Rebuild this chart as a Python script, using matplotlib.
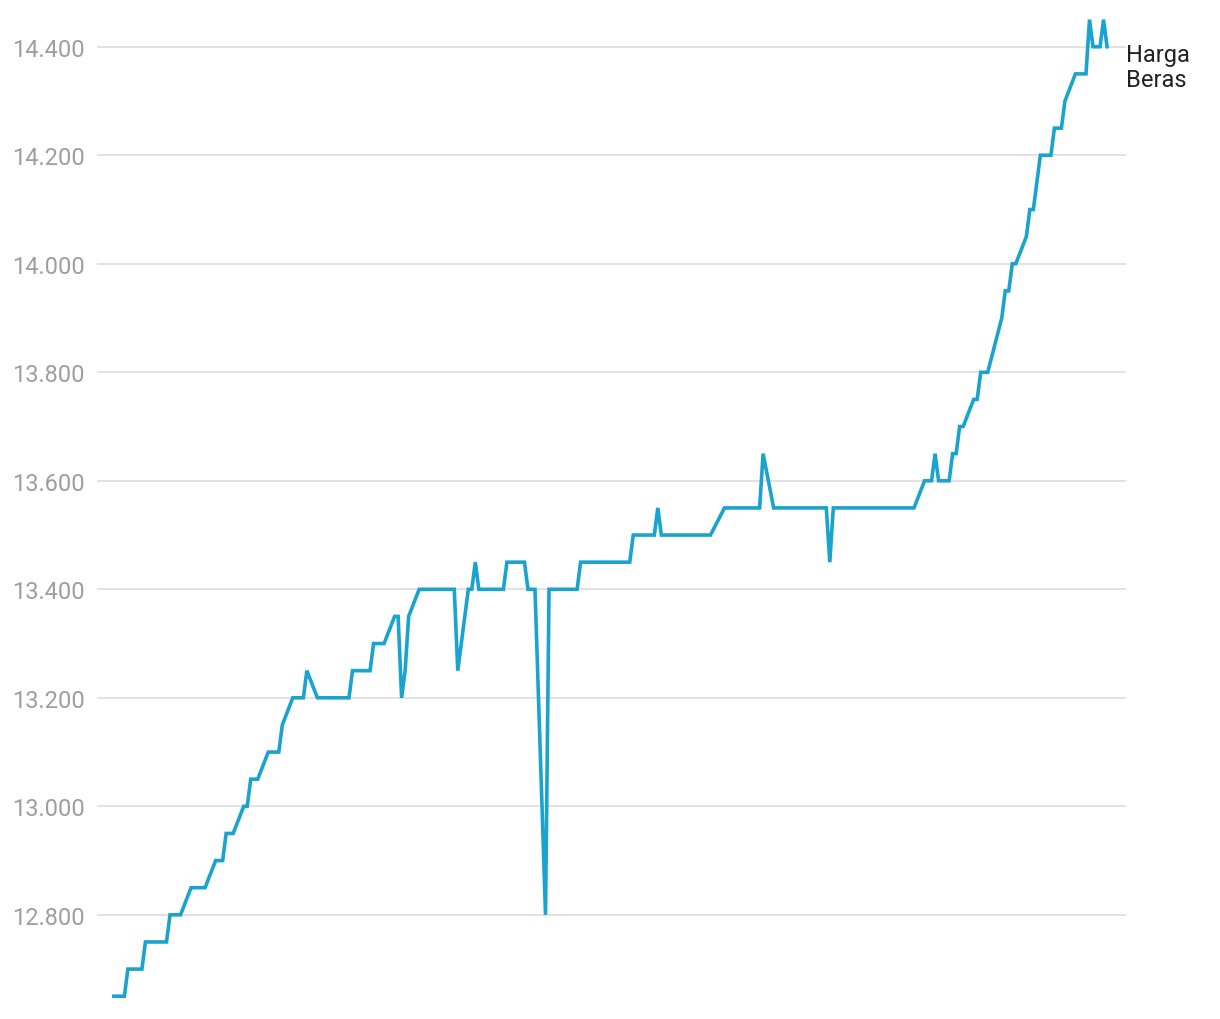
import matplotlib.pyplot as plt
from matplotlib.ticker import FuncFormatter

plt.rcParams['font.family'] = ['Roboto', 'DejaVu Sans']

# hari ke- (perkiraan dari gambar) dan harga beras (Rp/kg)
hari = [0, 3, 4, 8, 9, 15, 16, 19, 22, 26, 29, 31, 32, 34, 37, 38, 39, 41, 44, 47,
        48, 51, 54, 55, 58, 67, 68, 73, 74, 77, 80, 81, 82, 83, 84, 87, 97, 98, 101, 102,
        103, 104, 111, 112, 117, 118, 120, 123, 124, 132, 133, 147, 148, 154, 155, 156, 170, 174, 184, 185,
        188, 203, 204, 205, 228, 231, 233, 234, 235, 238, 239, 240, 241, 242, 245, 246, 247, 249, 253, 254,
        255, 256, 257, 260, 261, 262, 264, 267, 268, 270, 271, 274, 277, 278, 279, 281, 282, 283]
harga = [12650, 12650, 12700, 12700, 12750, 12750, 12800, 12800, 12850, 12850, 12900, 12900, 12950, 12950, 13000, 13000, 13050, 13050, 13100, 13100,
         13150, 13200, 13200, 13250, 13200, 13200, 13250, 13250, 13300, 13300, 13350, 13350, 13200, 13250, 13350, 13400, 13400, 13250, 13400, 13400,
         13450, 13400, 13400, 13450, 13450, 13400, 13400, 12800, 13400, 13400, 13450, 13450, 13500, 13500, 13550, 13500, 13500, 13550, 13550, 13650,
         13550, 13550, 13450, 13550, 13550, 13600, 13600, 13650, 13600, 13600, 13650, 13650, 13700, 13700, 13750, 13750, 13800, 13800, 13900, 13950,
         13950, 14000, 14000, 14050, 14100, 14100, 14200, 14200, 14250, 14250, 14300, 14350, 14350, 14450, 14400, 14400, 14450, 14400]
y_ticks = [12800, 13000, 13200, 13400, 13600, 13800, 14000, 14200, 14400]
label = "Harga\nBeras"

W, H = 1220, 1020
fig = plt.figure(figsize=(W / 100, H / 100), dpi=100)
ax = fig.add_axes([97 / W, 0, (1126 - 97) / W, 1])

ax.plot(hari, harga, color='#1aa3cf', lw=2.6, solid_joinstyle='miter', zorder=3)

ax.set_xlim(-4.8, 288.4)
ax.set_ylim(12608, 14488)
ax.set_yticks(y_ticks)
ax.yaxis.set_major_formatter(FuncFormatter(lambda v, p: f"{int(v):,}".replace(",", ".")))
ax.tick_params(axis='y', length=0, pad=61, labelsize=17, labelcolor='#9e9e9e')
for t in ax.get_yticklabels():
    t.set_horizontalalignment('left')
ax.set_xticks([])
ax.grid(axis='y', color='#e2e2e2', lw=1.4)
ax.set_axisbelow(True)
for s in ax.spines.values():
    s.set_visible(False)

ax.annotate(label, xy=(hari[-1], harga[-1]), xytext=(14, 3), textcoords='offset points',
            va='top', ha='left', fontsize=17, color='#222222', linespacing=1.15,
            annotation_clip=False)

fig.savefig('out.png', dpi=100)
